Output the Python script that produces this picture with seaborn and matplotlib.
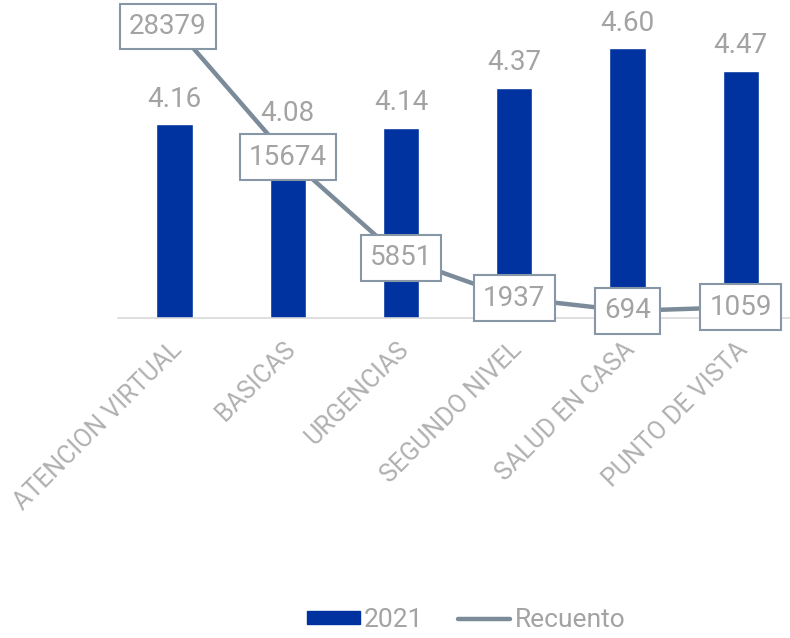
import numpy as np
import pandas as pd
import matplotlib
matplotlib.use("Agg")
import matplotlib.pyplot as plt
import matplotlib.transforms as mtransforms
from matplotlib.patches import Patch
from matplotlib.lines import Line2D
import seaborn as sns

sns.set_theme(style="white")
plt.rcParams["font.family"] = ["Roboto", "DejaVu Sans"]

# data
categorias = ["ATENCION VIRTUAL", "BASICAS", "URGENCIAS", "SEGUNDO NIVEL",
              "SALUD EN CASA", "PUNTO DE VISTA"]
valores_2021 = [4.16, 4.08, 4.14, 4.37, 4.60, 4.47]
recuento = [28379, 15674, 5851, 1937, 694, 1059]

df = pd.DataFrame({"categoria": categorias, "2021": valores_2021,
                   "Recuento": recuento})
df["pos"] = np.arange(len(df))

BAR = "#0033a0"
LINE = "#7b8b99"
TXT = "#a3a3a3"

fig = plt.figure(figsize=(7.9, 6.38), dpi=100)
ax = fig.add_axes([118 / 790, 320 / 638, 672 / 790, 308 / 638])

sns.barplot(data=df, x="pos", y="2021", color=BAR, width=0.32,
            saturation=1, ax=ax)
ax.set_ylim(3.04, 4.82)
ax.set_xlim(-0.5, 5.436)

for p, v in zip(df["pos"], df["2021"]):
    ax.annotate(f"{v:.2f}", (p, v), xytext=(0, 18), textcoords="offset points",
                ha="center", va="center", fontsize=20, color=TXT)

ax2 = ax.twinx()
sns.lineplot(data=df, x="pos", y="Recuento", color=LINE, lw=3.2, ax=ax2,
             solid_joinstyle="round", solid_capstyle="round")
ax2.set_ylim(0, 30000)
# first box sits a little left of its point in the original
box_dx = [-5, 0, 0, 0, 0, 0]
for p, v, dx in zip(df["pos"], df["Recuento"], box_dx):
    ax2.annotate(f"{v}", (p, v), xytext=(dx, 0), textcoords="offset points",
                 ha="center", va="center", fontsize=20, color=TXT,
                 bbox=dict(boxstyle="square,pad=0.33", fc="white",
                           ec="#8797a5", lw=1.5))

for a in (ax, ax2):
    a.set_xlabel("")
    a.set_ylabel("")
    a.set_yticks([])
    for s in a.spines.values():
        s.set_visible(False)
ax.spines["bottom"].set_visible(True)
ax.spines["bottom"].set_color("#d9d9d9")
ax.spines["bottom"].set_linewidth(1.2)

ax.set_xticks(df["pos"])
ax.set_xticklabels(df["categoria"], rotation=45, ha="right", va="top",
                   rotation_mode="anchor", fontsize=18, color="#b0b0b0")
ax.tick_params(axis="x", length=0, pad=14)
shift = mtransforms.ScaledTranslation(-5 / 100, 0, fig.dpi_scale_trans)
for lab in ax.get_xticklabels():
    lab.set_transform(lab.get_transform() + shift)

handles = [Patch(color=BAR, label="2021"),
           Line2D([0], [0], color=LINE, lw=3.2, solid_capstyle="round",
                  label="Recuento")]
fig.legend(handles=handles, loc="center", bbox_to_anchor=(0.59, 0.028),
           ncol=2, frameon=False, fontsize=19, labelcolor=TXT,
           handlelength=2.0, handleheight=0.4, handletextpad=0.15,
           columnspacing=1.3)

fig.savefig("out.png", dpi=100)
